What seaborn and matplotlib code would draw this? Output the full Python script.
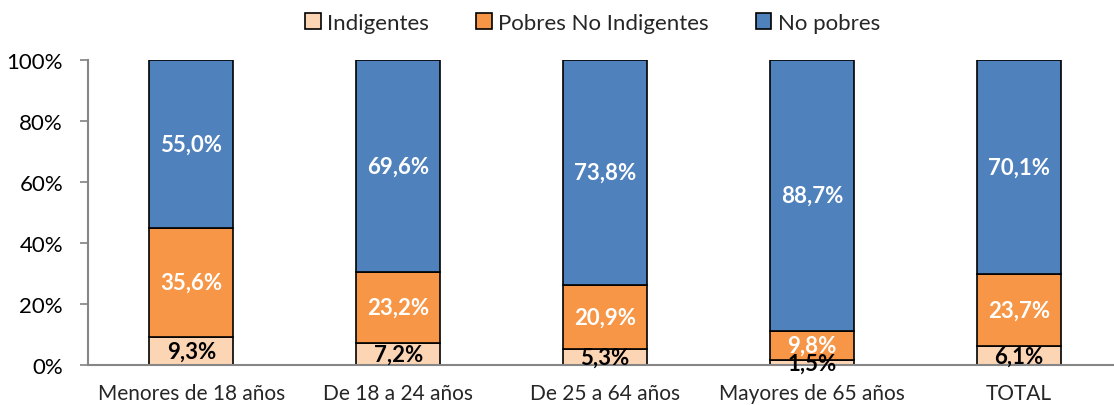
import matplotlib
matplotlib.use("Agg")
import matplotlib.pyplot as plt
import seaborn as sns
import pandas as pd
from matplotlib.patches import Patch
from matplotlib.ticker import PercentFormatter

# datos
grupos = ["Menores de 18 años", "De 18 a 24 años", "De 25 a 64 años", "Mayores de 65 años", "TOTAL"]
indigentes = [9.3, 7.2, 5.3, 1.5, 6.1]
pobres_no_ind = [35.6, 23.2, 20.9, 9.8, 23.7]
no_pobres = [55.0, 69.6, 73.8, 88.7, 70.1]
series = ["Indigentes", "Pobres No Indigentes", "No pobres"]
colores = ["#FCD5B5", "#F79646", "#4F81BD"]
color_txt = ["black", "white", "white"]

sns.set_theme(style="white")
plt.rcParams["font.family"] = ["Lato", "DejaVu Sans"]

df = pd.DataFrame({"grupo": grupos, "Indigentes": indigentes,
                   "Pobres No Indigentes": pobres_no_ind, "No pobres": no_pobres})

fig = plt.figure(figsize=(11.14, 4.06), dpi=100)
ax = fig.add_axes([0.079, 0.0985, 0.921, 0.7515])

base = [0.0] * len(grupos)
for s, c, tc in zip(series, colores, color_txt):
    sns.barplot(data=df, x="grupo", y=s, color=c, bottom=base, width=0.406,
                edgecolor="black", linewidth=1.2, ax=ax, saturation=1)
    cont = ax.containers[-1]
    ax.bar_label(cont, labels=[f"{v:.1f}%".replace(".", ",") for v in df[s]],
                 label_type="center", color=tc, fontsize=16, fontweight="bold")
    base = [b + v for b, v in zip(base, df[s])]

ax.set_ylim(0, 100)
ax.set_xlim(-0.5, len(grupos) - 0.54)
ax.set_yticks(range(0, 101, 20))
ax.yaxis.set_major_formatter(PercentFormatter(decimals=0))
ax.set_xlabel("")
ax.set_ylabel("")
ax.tick_params(axis="y", labelsize=16, left=True, length=6, pad=12, color="#868686", colors="black")
ax.tick_params(axis="x", labelsize=15, bottom=False, pad=7)
for sp in ["top", "right"]:
    ax.spines[sp].set_visible(False)
for sp in ["left", "bottom"]:
    ax.spines[sp].set_color("#868686")
    ax.spines[sp].set_linewidth(1.5)

handles = [Patch(facecolor=c, edgecolor="black", linewidth=1.2, label=s) for s, c in zip(series, colores)]
fig.legend(handles=handles, loc="upper center", bbox_to_anchor=(0.532, 1.015), ncol=3,
           frameon=False, fontsize=16, handlelength=0.7, handleheight=0.7,
           handletextpad=0.3, columnspacing=2.1)

fig.savefig("out.png", dpi=100)
